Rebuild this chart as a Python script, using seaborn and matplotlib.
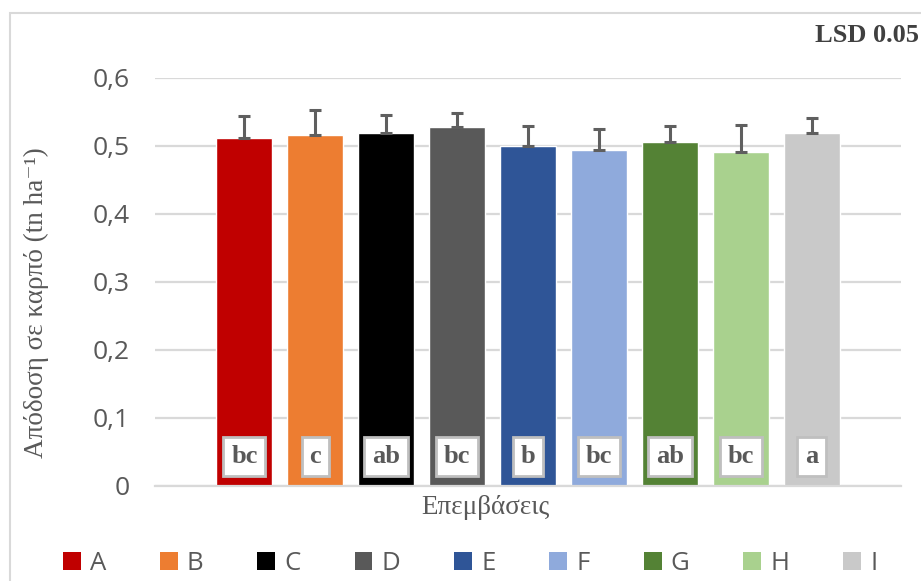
import matplotlib
matplotlib.use("Agg")
import matplotlib.pyplot as plt
from matplotlib.patches import Patch, Rectangle
import seaborn as sns
import pandas as pd
import numpy as np

# Treatments, mean fruit yield (tn/ha), standard error and LSD groups
treatments = ["A", "B", "C", "D", "E", "F", "G", "H", "I"]
yield_mean = [0.512, 0.515, 0.518, 0.528, 0.500, 0.493, 0.505, 0.491, 0.519]
yield_err = [0.031, 0.038, 0.027, 0.020, 0.029, 0.032, 0.024, 0.040, 0.022]
lsd_groups = ["bc", "c", "ab", "bc", "b", "bc", "ab", "bc", "a"]
colors = ["#c00000", "#ed7d31", "#000000", "#595959", "#2f5597",
          "#8faadc", "#548235", "#a9d18e", "#c9c9c9"]
y_ticks = [0.0, 0.1, 0.2, 0.3, 0.4, 0.5, 0.6]
y_tick_labels = ["0", "0,1", "0,2", "0,3", "0,4", "0,5", "0,6"]

df = pd.DataFrame({"treatment": treatments, "yield": yield_mean})

sns.set_theme(style="white")
plt.rcParams["font.family"] = ["Open Sans", "DejaVu Sans"]

text_grey = "#595959"
line_grey = "#d9d9d9"
serif = ["Liberation Serif", "DejaVu Serif"]

fig = plt.figure(figsize=(9.21, 5.81), dpi=100)
ax = fig.add_axes([0.1683, 0.164, 0.8100, 0.7023])

# Chart frame
fig.patches.append(Rectangle((10 / 921, -0.1), 2.0, 1.1 - 13 / 581,
                             transform=fig.transFigure, fill=False,
                             edgecolor=line_grey, linewidth=1.5, zorder=0))

palette = dict(zip(treatments, colors))
sns.barplot(data=df, x="treatment", y="yield", hue="treatment",
            palette=palette, width=0.79, legend=False, saturation=1,
            ax=ax, zorder=2)

x = np.arange(len(treatments))
ax.errorbar(x, yield_mean, yerr=[np.zeros(len(x)), yield_err], fmt="none",
            ecolor="#5f5f5f", elinewidth=2.2, capsize=4.5, capthick=2.2,
            zorder=3)

for xi, g in zip(x, lsd_groups):
    ax.text(xi, 0.0425, g, ha="center", va="center", fontsize=19,
            fontweight="bold", family=serif, color=text_grey, zorder=4,
            bbox=dict(boxstyle="square,pad=0.3", facecolor="white",
                      edgecolor="#bfbfbf", linewidth=2))

lo, hi = -1.26, len(treatments) - 1 + 1.26
ax.set_xlim(lo, hi)
ax.set_ylim(0, 0.6)
ax.set_yticks(y_ticks)
ax.set_yticklabels(y_tick_labels)
ax.set_xticks([lo, hi])
ax.set_xticklabels(["", ""])
ax.tick_params(axis="y", length=0, pad=18, labelsize=19, labelcolor=text_grey)
ax.tick_params(axis="x", length=6.5, width=1.5, color=line_grey, direction="out")
ax.yaxis.grid(True, color=line_grey, linewidth=1.6, zorder=0)
ax.set_axisbelow(True)
for side in ["left", "right", "top"]:
    ax.spines[side].set_visible(False)
ax.spines["bottom"].set_color(line_grey)
ax.spines["bottom"].set_linewidth(1.6)
ax.set_xlabel("")
ax.set_ylabel("")

fig.text(485 / 921, 1 - 508 / 581, "Επεμβάσεις", ha="center", va="center",
         fontsize=19.5, family=serif, color=text_grey)
fig.text(36 / 921, 1 - 458 / 581, "Απόδοση σε καρπό (tn ha⁻¹)", rotation=90,
         ha="center", va="bottom", fontsize=19.5, family=serif, color=text_grey)
fig.text(919 / 921, 1 - 35 / 581, "LSD 0.05", ha="right", va="center",
         fontsize=19, fontweight="bold", family=serif, color="#404040")

handles = [Patch(facecolor=c, edgecolor="none") for c in colors]
fig.legend(handles, treatments, loc="center", bbox_to_anchor=(470 / 921, 1 - 563 / 581),
           ncol=len(treatments), frameon=False, fontsize=18.5, labelcolor=text_grey,
           handlelength=0.7, handleheight=0.7, handletextpad=0.35,
           columnspacing=2.1)

fig.savefig("out.png", dpi=100)
